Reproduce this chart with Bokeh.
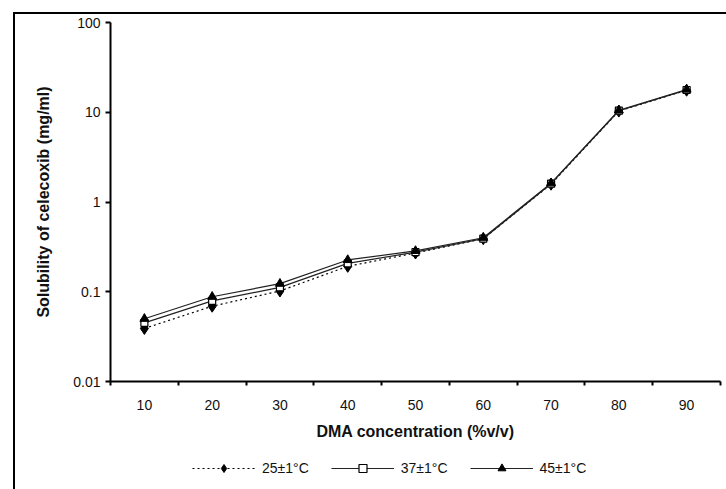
from bokeh.plotting import figure
from bokeh.models import Range1d, FixedTicker, Legend, LegendItem, ColumnDataSource
from bokeh.layouts import column
from bokeh.embed import file_html
from bokeh.resources import INLINE

# ---- data ----
concentration = [10, 20, 30, 40, 50, 60, 70, 80, 90]
sol_25 = [0.039, 0.069, 0.102, 0.192, 0.27, 0.39, 1.58, 10.3, 17.6]
sol_37 = [0.045, 0.079, 0.112, 0.207, 0.276, 0.39, 1.60, 10.4, 17.7]
sol_45 = [0.050, 0.088, 0.123, 0.226, 0.285, 0.40, 1.62, 10.5, 17.9]
x_boundaries = [5, 15, 25, 35, 45, 55, 65, 75, 85, 95]
y_ticks = [0.01, 0.1, 1, 10, 100]
y_tick_labels = ["0.01", "0.1", "1", "10", "100"]
series_labels = ["25±1°C", "37±1°C", "45±1°C"]
x_title = "DMA concentration (%v/v)"
y_title = "Solubility of celecoxib (mg/ml)"

FONT = "Liberation Sans"

source = ColumnDataSource(dict(conc=concentration, s25=sol_25, s37=sol_37, s45=sol_45))

# ---------------- main chart ----------------
p = figure(width=713, height=433, y_axis_type="log",
           x_range=Range1d(5, 95), y_range=Range1d(0.01, 100),
           output_backend="svg", toolbar_location=None,
           min_border_left=95, min_border_right=8,
           min_border_top=8, min_border_bottom=66)
# outer frame of the original figure: only its top and left edges are in the crop
p.margin = (12, 0, 0, 13)
p.styles = {"border-top": "2px solid black", "border-left": "2px solid black"}

p.xgrid.visible = False
p.ygrid.visible = False
p.outline_line_color = None
p.background_fill_color = "white"
p.border_fill_color = "white"

# x axis: labels at category centres, tick marks at category boundaries
xa = p.xaxis[0]
xa.ticker = FixedTicker(ticks=concentration, minor_ticks=x_boundaries)
xa.major_tick_line_color = None
xa.major_tick_out = 4
xa.major_tick_in = 0
xa.minor_tick_line_color = "black"
xa.minor_tick_line_width = 2
xa.minor_tick_out = 4
xa.minor_tick_in = 0
xa.axis_line_width = 2
xa.axis_line_color = "black"
xa.major_label_text_font = FONT
xa.major_label_text_font_size = "14px"
xa.major_label_text_color = "#111111"
xa.major_label_standoff = 14
xa.axis_label = x_title
xa.axis_label_text_font = FONT
xa.axis_label_text_font_size = "16px"
xa.axis_label_text_font_style = "bold"
xa.axis_label_text_color = "#111111"
xa.axis_label_standoff = 10

ya = p.yaxis[0]
ya.ticker = FixedTicker(ticks=y_ticks)
ya.major_label_overrides = {t: l for t, l in zip(y_ticks, y_tick_labels)}
ya.minor_tick_line_color = None
ya.major_tick_line_color = "black"
ya.major_tick_line_width = 2
ya.major_tick_out = 5
ya.major_tick_in = 0
ya.axis_line_width = 2
ya.axis_line_color = "black"
ya.major_label_text_font = FONT
ya.major_label_text_font_size = "14px"
ya.major_label_text_color = "#111111"
ya.major_label_standoff = 5
ya.axis_label = y_title
ya.axis_label_text_font = FONT
ya.axis_label_text_font_size = "16px"
ya.axis_label_text_font_style = "bold"
ya.axis_label_text_color = "#111111"
ya.axis_label_standoff = 18

STYLE = {
    "25": dict(line=dict(line_color="black", line_width=1.2, line_dash="2 3"),
               marker=dict(marker="diamond", size=12, fill_color="black", line_color="black")),
    "37": dict(line=dict(line_color="#222222", line_width=1.2),
               marker=dict(marker="square", size=7, fill_color="white",
                           line_color="black", line_width=1.2)),
    "45": dict(line=dict(line_color="#222222", line_width=1.2),
               marker=dict(marker="triangle", size=9, fill_color="black", line_color="black")),
}


def add_series(fig, col, key):
    ln = fig.line("conc", col, source=source, **STYLE[key]["line"])
    mk = fig.scatter("conc", col, source=source, **STYLE[key]["marker"])
    return [ln, mk]


add_series(p, "s25", "25")
add_series(p, "s37", "37")
add_series(p, "s45", "45")

# ---------------- legend strip under the chart ----------------
lg = figure(width=713, height=44, x_range=Range1d(0, 1), y_range=Range1d(0, 1),
            x_axis_location=None, y_axis_location=None,
            output_backend="svg", toolbar_location=None,
            min_border=0)
lg.margin = (0, 0, 0, 13)
lg.styles = {"border-left": "2px solid black"}
lg.outline_line_color = None
lg.background_fill_color = "white"
lg.border_fill_color = "white"
for g in lg.grid:
    g.visible = False

# proxy renderers (same data, outside this strip's ranges) that give the legend its glyphs
r25 = add_series(lg, "s25", "25")
r37 = add_series(lg, "s37", "37")
r45 = add_series(lg, "s45", "45")

legend = Legend(items=[
    LegendItem(label=series_labels[0], renderers=r25),
    LegendItem(label=series_labels[1], renderers=r37),
    LegendItem(label=series_labels[2], renderers=r45),
], orientation="horizontal", location=(82, 11),
    glyph_width=63, glyph_height=20, label_height=20, label_standoff=7, spacing=22,
    padding=0, margin=0, border_line_color=None, background_fill_alpha=0,
    label_text_font=FONT, label_text_font_size="14px", label_text_color="#111111")
lg.add_layout(legend)

layout = column(p, lg, spacing=0)

open("out.html", "w").write(file_html(layout, INLINE))
